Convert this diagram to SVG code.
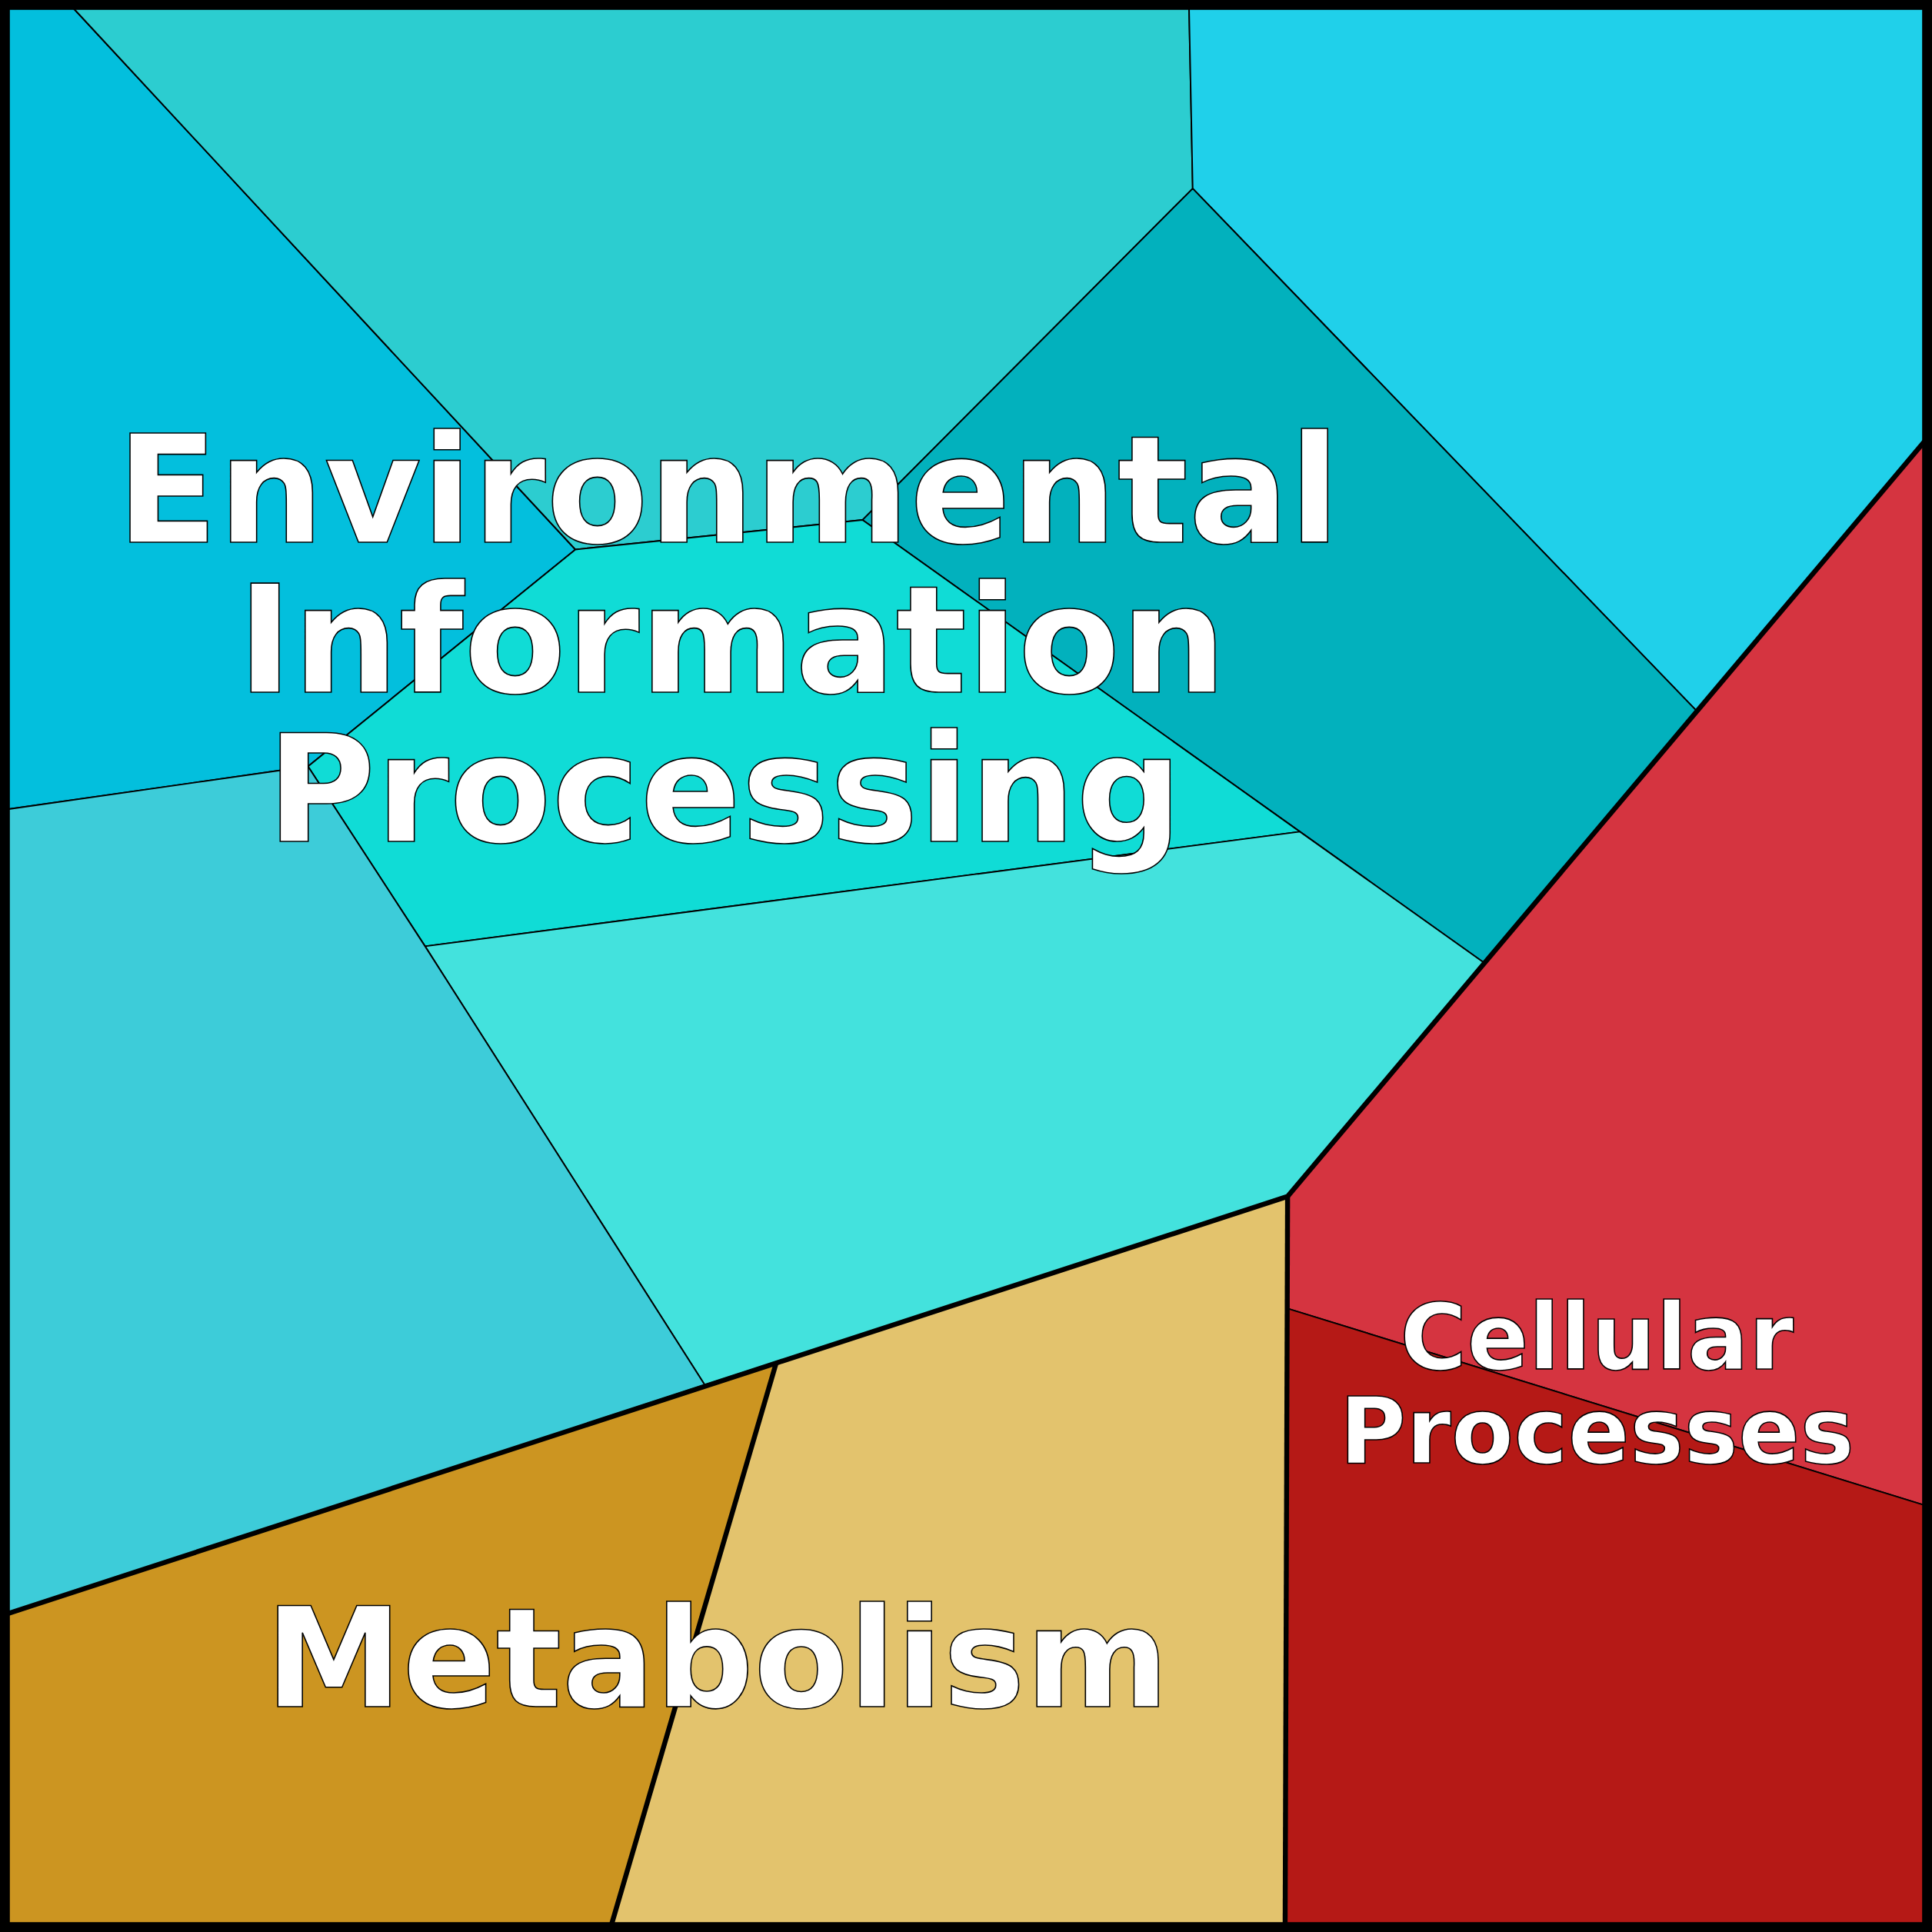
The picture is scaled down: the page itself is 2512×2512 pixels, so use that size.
<svg xmlns="http://www.w3.org/2000/svg" width="2512" height="2512" viewBox="0 0 2512 2512">
<style>
.c{stroke:#000;stroke-width:1.2;stroke-linejoin:round}
.t{font-family:"DejaVu Sans",sans-serif;font-weight:bold;fill:#fff;stroke:#000;stroke-width:1;text-anchor:middle}
.k{fill:none;stroke:#000;stroke-width:4;stroke-linejoin:round}
</style>
<g transform="scale(1.60204)">
<g id="cells">
<polygon class="c" fill="#03BFDD" points="5,5 58,5 467,446 250,622 5,657"/>
<polygon class="c" fill="#2CCDD0" points="58,5 965,5 968,153 700,422 467,446"/>
<polygon class="c" fill="#20D0EA" points="965,5 1563,5 1563,357 1377,577 968,153"/>
<polygon class="c" fill="#02B1BD" points="968,153 1377,577 1204,781 1055,675 700,422"/>
<polygon class="c" fill="#10DCD6" points="467,446 700,422 1055,675 345,768 250,622"/>
<polygon class="c" fill="#43E2DD" points="345,768 1055,675 1204,781 1045,971 572,1124"/>
<polygon class="c" fill="#3DCCD9" points="5,657 250,622 345,768 572,1124 5,1310"/>
<polygon class="c" fill="#D53440" points="1563,357 1045,971 1045,1062 1563,1222"/>
<polygon class="c" fill="#B51916" points="1045,1062 1563,1222 1563,1563 1043,1563"/>
<polygon class="c" fill="#CC9521" points="5,1310 630,1106 496,1563 5,1563"/>
<polygon class="c" fill="#E3C36D" points="630,1106 1045,971 1043,1563 496,1563"/>
</g>
<g id="borders">
<polyline class="k" points="1563,357 1045,971 5,1310"/>
<polyline class="k" points="1045,971 1043,1563"/>
<polyline class="k" points="630,1106 496,1563"/>
<rect x="4" y="4" width="1560" height="1560" fill="none" stroke="#000" stroke-width="8"/>
</g>
<g id="labels">
<text class="t" font-size="121" x="591" y="440">Environmental</text>
<text class="t" font-size="121" x="594" y="562">Information</text>
<text class="t" font-size="121" x="588" y="683">Processing</text>
<text class="t" font-size="112" x="582" y="1385">Metabolism</text>
<text class="t" font-size="74" x="1296" y="1111">Cellular</text>
<text class="t" font-size="74" x="1296" y="1187">Processes</text>
</g>
</g>
</svg>
